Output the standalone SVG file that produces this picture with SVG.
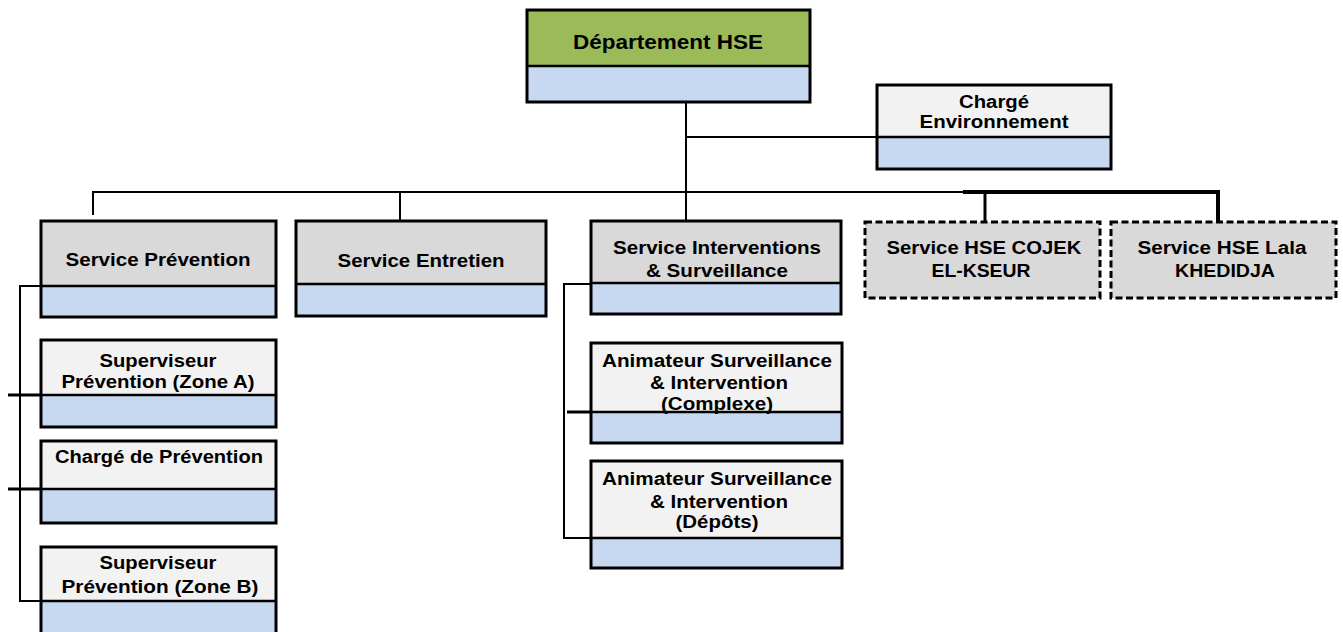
<svg xmlns="http://www.w3.org/2000/svg" width="1343" height="632" viewBox="0 0 1343 632">
<style>
.box{stroke:#000;stroke-width:3}
.dash{stroke:#000;stroke-width:3;stroke-dasharray:7 3.5}
.blue{fill:#C6D9F1}
.green{fill:#9BBB59}
.gray{fill:#D9D9D9}
.light{fill:#F2F2F2}
.split{stroke:#000;stroke-width:2.5}
.t{font-family:"Liberation Sans",Arial,sans-serif;font-weight:bold;font-size:18px;fill:#000;text-anchor:middle}
.c{fill:none;stroke:#000;stroke-width:2}
</style>
<rect width="1343" height="632" fill="#fff"/>
<g id="connectors">
<path class="c" d="M686,102 V221"/>
<path class="c" d="M687,137 H877"/>
<path class="c" d="M93,215 V192 H963"/>
<path d="M963,192 H1218 V221" fill="none" stroke="#000" stroke-width="4"/>
<path d="M985,192 V221" fill="none" stroke="#000" stroke-width="3"/>
<path class="c" d="M400,192 V221"/>
<path class="c" d="M42,286 H20 V601 H42"/>
<path d="M8,395 H42 M8,489 H42" fill="none" stroke="#000" stroke-width="3"/>
<path class="c" d="M591,284 H564 V538 H591"/>
<path d="M567,412 H591" fill="none" stroke="#000" stroke-width="3"/>
</g>
<g id="dept">
<rect class="green" x="527" y="10" width="283" height="56"/>
<rect class="blue" x="527" y="66" width="283" height="36"/>
<rect class="box" x="527" y="10" width="283" height="92" fill="none"/>
<line class="split" x1="527" y1="66" x2="810" y2="66"/>
<text class="t" x="668" y="49" style="font-size:20px" textLength="190" lengthAdjust="spacingAndGlyphs">Département HSE</text>
</g>
<g id="charge-env">
<rect class="light" x="877" y="85" width="234" height="52"/>
<rect class="blue" x="877" y="137" width="234" height="32"/>
<rect class="box" x="877" y="85" width="234" height="84" fill="none"/>
<line class="split" x1="877" y1="137" x2="1111" y2="137"/>
<text class="t" x="994" y="108" textLength="70" lengthAdjust="spacingAndGlyphs">Chargé</text>
<text class="t" x="994" y="128" textLength="149" lengthAdjust="spacingAndGlyphs">Environnement</text>
</g>
<g id="svc-prevention">
<rect class="gray" x="41" y="221" width="235" height="65"/>
<rect class="blue" x="41" y="286" width="235" height="31"/>
<rect class="box" x="41" y="221" width="235" height="96" fill="none"/>
<line class="split" x1="41" y1="286" x2="276" y2="286"/>
<text class="t" x="158" y="266" textLength="185" lengthAdjust="spacingAndGlyphs">Service Prévention</text>
</g>
<g id="svc-entretien">
<rect class="gray" x="296" y="221" width="250" height="63"/>
<rect class="blue" x="296" y="284" width="250" height="32"/>
<rect class="box" x="296" y="221" width="250" height="95" fill="none"/>
<line class="split" x1="296" y1="284" x2="546" y2="284"/>
<text class="t" x="421" y="267" textLength="167" lengthAdjust="spacingAndGlyphs">Service Entretien</text>
</g>
<g id="svc-interventions">
<rect class="gray" x="591" y="221" width="250" height="62"/>
<rect class="blue" x="591" y="283" width="250" height="31"/>
<rect class="box" x="591" y="221" width="250" height="93" fill="none"/>
<line class="split" x1="591" y1="283" x2="841" y2="283"/>
<text class="t" x="717" y="254" textLength="208" lengthAdjust="spacingAndGlyphs">Service Interventions</text>
<text class="t" x="717" y="277" textLength="142" lengthAdjust="spacingAndGlyphs">&amp; Surveillance</text>
</g>
<g id="svc-cojek">
<rect class="gray dash" x="865" y="222" width="235" height="76"/>
<text class="t" x="984" y="254" textLength="195" lengthAdjust="spacingAndGlyphs">Service HSE COJEK</text>
<text class="t" x="981" y="277" textLength="99" lengthAdjust="spacingAndGlyphs">EL-KSEUR</text>
</g>
<g id="svc-lala">
<rect class="gray dash" x="1111" y="222" width="225" height="76"/>
<text class="t" x="1222" y="254" textLength="169" lengthAdjust="spacingAndGlyphs">Service HSE Lala</text>
<text class="t" x="1225" y="277" textLength="100" lengthAdjust="spacingAndGlyphs">KHEDIDJA</text>
</g>
<g id="sup-zone-a">
<rect class="light" x="41" y="340" width="235" height="55"/>
<rect class="blue" x="41" y="395" width="235" height="32"/>
<rect class="box" x="41" y="340" width="235" height="87" fill="none"/>
<line class="split" x1="41" y1="395" x2="276" y2="395"/>
<text class="t" x="158" y="367" textLength="117" lengthAdjust="spacingAndGlyphs">Superviseur</text>
<text class="t" x="158" y="388" textLength="193" lengthAdjust="spacingAndGlyphs">Prévention (Zone A)</text>
</g>
<g id="charge-prevention">
<rect class="light" x="41" y="441" width="235" height="48"/>
<rect class="blue" x="41" y="489" width="235" height="34"/>
<rect class="box" x="41" y="441" width="235" height="82" fill="none"/>
<line class="split" x1="41" y1="489" x2="276" y2="489"/>
<text class="t" x="159" y="463" textLength="208" lengthAdjust="spacingAndGlyphs">Chargé de Prévention</text>
</g>
<g id="sup-zone-b">
<rect class="light" x="41" y="547" width="235" height="54"/>
<rect class="blue" x="41" y="601" width="235" height="40"/>
<rect class="box" x="41" y="547" width="235" height="94" fill="none"/>
<line class="split" x1="41" y1="601" x2="276" y2="601"/>
<text class="t" x="158" y="569" textLength="117" lengthAdjust="spacingAndGlyphs">Superviseur</text>
<text class="t" x="160" y="593" textLength="197" lengthAdjust="spacingAndGlyphs">Prévention (Zone B)</text>
</g>
<g id="anim-complexe">
<rect class="light" x="591" y="343" width="251" height="69"/>
<rect class="blue" x="591" y="412" width="251" height="31"/>
<text class="t" x="717" y="367" textLength="230" lengthAdjust="spacingAndGlyphs">Animateur Surveillance</text>
<text class="t" x="719" y="389" textLength="138" lengthAdjust="spacingAndGlyphs">&amp; Intervention</text>
<text class="t" x="717" y="410" textLength="112" lengthAdjust="spacingAndGlyphs">(Complexe)</text>
<rect class="box" x="591" y="343" width="251" height="100" fill="none"/>
<line class="split" x1="591" y1="412" x2="842" y2="412"/>
</g>
<g id="anim-depots">
<rect class="light" x="591" y="461" width="251" height="77"/>
<rect class="blue" x="591" y="538" width="251" height="30"/>
<rect class="box" x="591" y="461" width="251" height="107" fill="none"/>
<line class="split" x1="591" y1="538" x2="842" y2="538"/>
<text class="t" x="717" y="485" textLength="230" lengthAdjust="spacingAndGlyphs">Animateur Surveillance</text>
<text class="t" x="719" y="508" textLength="138" lengthAdjust="spacingAndGlyphs">&amp; Intervention</text>
<text class="t" x="717" y="528" textLength="83" lengthAdjust="spacingAndGlyphs">(Dépôts)</text>
</g>
</svg>
